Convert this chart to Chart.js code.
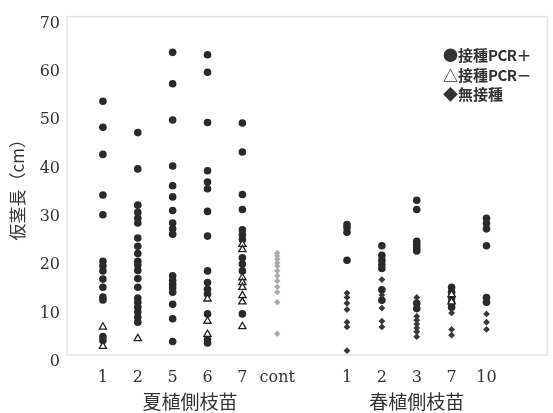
<!DOCTYPE html>
<html><head><meta charset="utf-8">
<script src="https://cdn.jsdelivr.net/npm/chart.js@4"></script>
<style>
html,body{margin:0;padding:0;background:#fff}
#wrap{position:relative;width:553px;height:413px}
#legend{position:absolute;left:443px;top:45px;font-family:"Noto Sans CJK JP";font-weight:bold;font-size:15px;line-height:19.5px;color:#333;white-space:nowrap}
#legend .pcr{letter-spacing:-0.5px}
</style></head>
<body><div id="wrap"><canvas id="c" width="553" height="413" style="width:553px;height:413px"></canvas>
<div id="legend"><div>●接種<span class="pcr">PCR</span>＋</div><div>△接種<span class="pcr">PCR</span>－</div><div>◆無接種</div></div></div>
<script>
// categories
const summerCats = ['1','2','5','6','7','cont'];
const springCats = ['1','2','3','7','10'];
const xTickLabels = [...summerCats, '', ...springCats];
const groupNames = ['夏植側枝苗','春植側枝苗'];
const yTickValues = [0,10,20,30,40,50,60,70];

// 接種PCR+ (circles), per column
const plusSummer = [
  [52.5,47.1,41.5,33.1,29.0,19.4,18.4,17.4,15.7,14.0,12.0,11.4,3.8,3.0],
  [46.0,38.5,31.0,29.5,28.3,27.3,24.2,22.5,21.0,19.4,18.6,17.5,15.8,14.0,11.8,10.9,9.9,8.9,7.8,6.8],
  [62.6,56.1,48.6,39.1,35.0,32.7,29.9,27.3,26.1,25.0,16.4,15.4,14.6,13.9,13.0,10.5,7.5,2.8],
  [62.1,58.5,48.1,38.1,35.8,34.4,29.7,24.6,17.4,15.0,13.6,12.6,8.5,3.2,2.5],
  [48.0,42.0,33.2,30.1,25.9,24.9,23.9,20.1,18.8,17.4,8.5],
  []
];
const plusSpring = [
  [27.0,26.3,25.4,19.6],
  [22.6,20.6,19.6,18.7,17.9,13.5,11.3],
  [32.0,30.1,23.5,22.8,22.2,21.5,10.7,9.6],
  [14.0,13.0,11.9,10.9,9.9],
  [28.3,27.2,26.1,22.6,11.9,10.9]
];
// 接種PCR- (triangles)
const minusSummer = [
  [5.8,1.8],
  [3.4],
  [],
  [11.6,7.0,4.3],
  [22.9,21.8,16.0,15.0,14.0,12.3,11.0,5.9],
  []
];
const minusSpring = [[],[],[],[12.5,11.0],[]];
// 無接種 (diamonds)
const noneSummer = [[],[],[],[],[],[]];
const noneSpring = [
  [12.8,11.9,10.7,9.4,6.8,5.8,0.9],
  [15.6,12.4,9.7,7.0,5.8],
  [11.9,8.0,7.2,6.4,5.6,4.8,3.8],
  [8.7,5.3,4.1],
  [8.5,6.8,5.3]
];
// control column (gray diamonds)
const contValues = [21.1,20.5,19.8,19.1,18.4,17.4,16.4,15.3,14.1,13.0,10.9,4.4];

const springOffset = summerCats.length + 1;
function toPoints(summer, spring){
  const pts = [];
  summer.forEach((col,i)=>col.forEach(v=>pts.push({x:i,y:v})));
  spring.forEach((col,i)=>col.forEach(v=>pts.push({x:i+springOffset,y:v})));
  return pts;
}
const contIndex = summerCats.indexOf('cont');

const frame = {
  id:'frame',
  beforeDatasetsDraw(chart){
    const {ctx, chartArea:a} = chart;
    ctx.save();
    ctx.strokeStyle='#e4e4e4'; ctx.lineWidth=1.5;
    ctx.strokeRect(a.left, a.top, a.right-a.left, a.bottom-a.top);
    ctx.restore();
  },
  afterDraw(chart){
    const {ctx, scales:{x}} = chart;
    ctx.save();
    ctx.fillStyle='#333';
    ctx.font='19px "Noto Sans CJK JP"';
    ctx.textAlign='center'; ctx.textBaseline='middle';
    const centers = [(summerCats.length-1)/2, springOffset + (springCats.length-1)/2];
    groupNames.forEach((t,i)=>ctx.fillText(t, x.getPixelForValue(centers[i]), 402));
    ctx.restore();
  }
};

new Chart(document.getElementById('c'), {
  type:'scatter',
  data:{datasets:[
    {label:'接種PCR－', data:toPoints(minusSummer,minusSpring), pointStyle:'triangle', pointRadius:4.2, backgroundColor:'#fff', borderColor:'#222', borderWidth:1.3},
    {label:'接種PCR＋', data:toPoints(plusSummer,plusSpring), pointStyle:'circle', pointRadius:3.8, backgroundColor:'#2a2a2a', borderColor:'#2a2a2a', borderWidth:0},
    {label:'無接種', data:toPoints(noneSummer,noneSpring), pointStyle:'rectRot', pointRadius:3.4, backgroundColor:'#383838', borderColor:'#383838', borderWidth:0},
    {label:'cont', data:contValues.map(v=>({x:contIndex,y:v})), pointStyle:'rectRot', pointRadius:3.2, backgroundColor:'#ababab', borderColor:'#ababab', borderWidth:0}
  ]},
  options:{
    responsive:false, animation:false,
    layout:{padding:{top:9,right:5,left:0,bottom:0}},
    plugins:{legend:{display:false}, tooltip:{enabled:false}},
    scales:{
      x:{type:'linear', min:-1.03, max:12.75,
        afterBuildTicks:s=>{ s.ticks = xTickLabels.map((l,i)=>({value:i})).filter(t=>xTickLabels[t.value]!==''); },
        ticks:{callback:v=>xTickLabels[v], autoSkip:false, maxRotation:0, padding:13, color:'#333',
          font:{family:'"DejaVu Serif", serif', size:16}},
        grid:{display:false, drawTicks:false}, border:{display:false},
        afterFit:s=>{ s.height = 58; }
      },
      y:{min:0, max:70,
        afterBuildTicks:s=>{ s.ticks = yTickValues.map(v=>({value:v})); },
        ticks:{labelOffset:7, padding:7, color:'#333',
          font:{family:'"DejaVu Serif", serif', size:16}},
        grid:{display:false, drawTicks:false}, border:{display:false},
        title:{display:true, text:'仮茎長（cm）', color:'#333', font:{family:'"Noto Sans CJK JP"', size:17}, padding:{top:7,bottom:0}},
        afterFit:s=>{ s.width = 67; }
      }
    }
  },
  plugins:[frame]
});
</script></body></html>
